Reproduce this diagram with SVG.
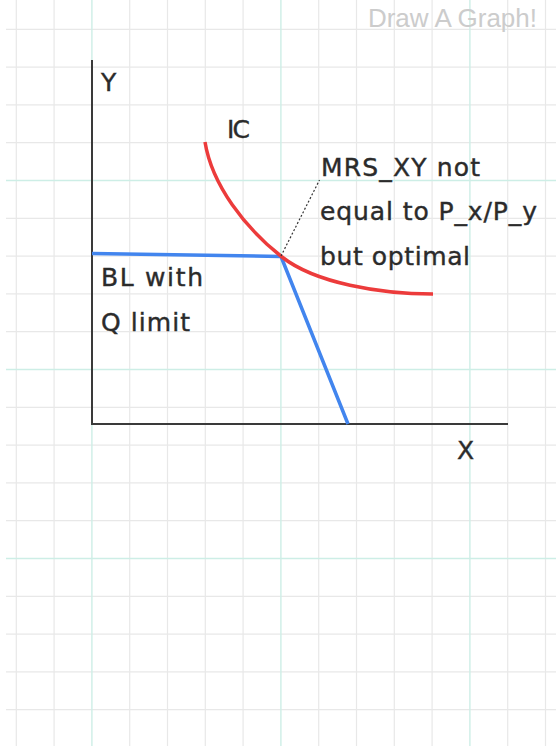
<svg xmlns="http://www.w3.org/2000/svg" width="556" height="746" viewBox="0 0 556 746">
  <style>
    .g { stroke: #e8e8e8; stroke-width: 1.2; }
    .t { stroke: #cdeee6; stroke-width: 1.4; }
    .axis { stroke: #3a3a3a; stroke-width: 2; fill: none; }
    .hand { font-family: "DejaVu Sans", "Noto Sans", sans-serif; font-size: 25px; fill: #2b2b2b; stroke: #2b2b2b; stroke-width: 0.4; }
    .brand { font-family: "Liberation Sans", Arial, sans-serif; font-size: 26px; fill: #cccccc; }
  </style>
  <rect width="556" height="746" fill="#ffffff"/>
  <g id="grid">
    <g class="g">
      <line x1="16.3" y1="0" x2="16.3" y2="746"/>
      <line x1="54.1" y1="0" x2="54.1" y2="746"/>
      <line x1="129.7" y1="0" x2="129.7" y2="746"/>
      <line x1="167.5" y1="0" x2="167.5" y2="746"/>
      <line x1="205.3" y1="0" x2="205.3" y2="746"/>
      <line x1="243.1" y1="0" x2="243.1" y2="746"/>
      <line x1="318.7" y1="0" x2="318.7" y2="746"/>
      <line x1="356.5" y1="0" x2="356.5" y2="746"/>
      <line x1="394.3" y1="0" x2="394.3" y2="746"/>
      <line x1="432.1" y1="0" x2="432.1" y2="746"/>
      <line x1="507.7" y1="0" x2="507.7" y2="746"/>
      <line x1="545.5" y1="0" x2="545.5" y2="746"/>
      <line x1="6" y1="29.3" x2="556" y2="29.3"/>
      <line x1="6" y1="67.1" x2="556" y2="67.1"/>
      <line x1="6" y1="104.9" x2="556" y2="104.9"/>
      <line x1="6" y1="142.7" x2="556" y2="142.7"/>
      <line x1="6" y1="218.3" x2="556" y2="218.3"/>
      <line x1="6" y1="256.1" x2="556" y2="256.1"/>
      <line x1="6" y1="293.9" x2="556" y2="293.9"/>
      <line x1="6" y1="331.7" x2="556" y2="331.7"/>
      <line x1="6" y1="407.3" x2="556" y2="407.3"/>
      <line x1="6" y1="445.1" x2="556" y2="445.1"/>
      <line x1="6" y1="482.9" x2="556" y2="482.9"/>
      <line x1="6" y1="520.7" x2="556" y2="520.7"/>
      <line x1="6" y1="596.3" x2="556" y2="596.3"/>
      <line x1="6" y1="634.1" x2="556" y2="634.1"/>
      <line x1="6" y1="671.9" x2="556" y2="671.9"/>
      <line x1="6" y1="709.7" x2="556" y2="709.7"/>
    </g>
    <g class="t">
      <line x1="91.9" y1="0" x2="91.9" y2="746"/>
      <line x1="280.9" y1="0" x2="280.9" y2="746"/>
      <line x1="469.9" y1="0" x2="469.9" y2="746"/>
      <line x1="6" y1="180.5" x2="556" y2="180.5"/>
      <line x1="6" y1="369.5" x2="556" y2="369.5"/>
      <line x1="6" y1="558.5" x2="556" y2="558.5"/>
    </g>
  </g>
  <text class="brand" x="537" y="27" text-anchor="end">Draw A Graph!</text>
  <g id="axes">
    <polyline class="axis" points="92,60 92,424 508,424"/>
    <text class="hand" x="101" y="91" textLength="19">Y</text>
    <text class="hand" x="457" y="459" textLength="18">X</text>
  </g>
  <g id="connectors">
    <path id="budget-line" d="M92,253.5 L281,256.5 L348,424" fill="none" stroke="#4285ee" stroke-width="3.5" stroke-linejoin="round"/>
    <path id="indifference-curve" d="M205,142 C212,185 245,228 282,257 C315,283 380,294 433,294" fill="none" stroke="#ec3b3b" stroke-width="3.5" stroke-linecap="butt"/>
    <line id="pointer" x1="281" y1="256" x2="319.5" y2="180" stroke="#333" stroke-width="1.2" stroke-dasharray="2,2"/>
  </g>
  <g id="ic-label">
    <text class="hand" x="227" y="138" textLength="23">IC</text>
  </g>
  <g id="bl-label">
    <text class="hand" x="101" y="286" textLength="102">BL with</text>
    <text class="hand" x="101" y="331" textLength="89">Q limit</text>
  </g>
  <g id="optimum-note">
    <text class="hand" x="321" y="176" textLength="159">MRS_XY not</text>
    <text class="hand" x="320" y="220" textLength="217">equal to P_x/P_y</text>
    <text class="hand" x="320" y="265" textLength="150">but optimal</text>
  </g>
</svg>
